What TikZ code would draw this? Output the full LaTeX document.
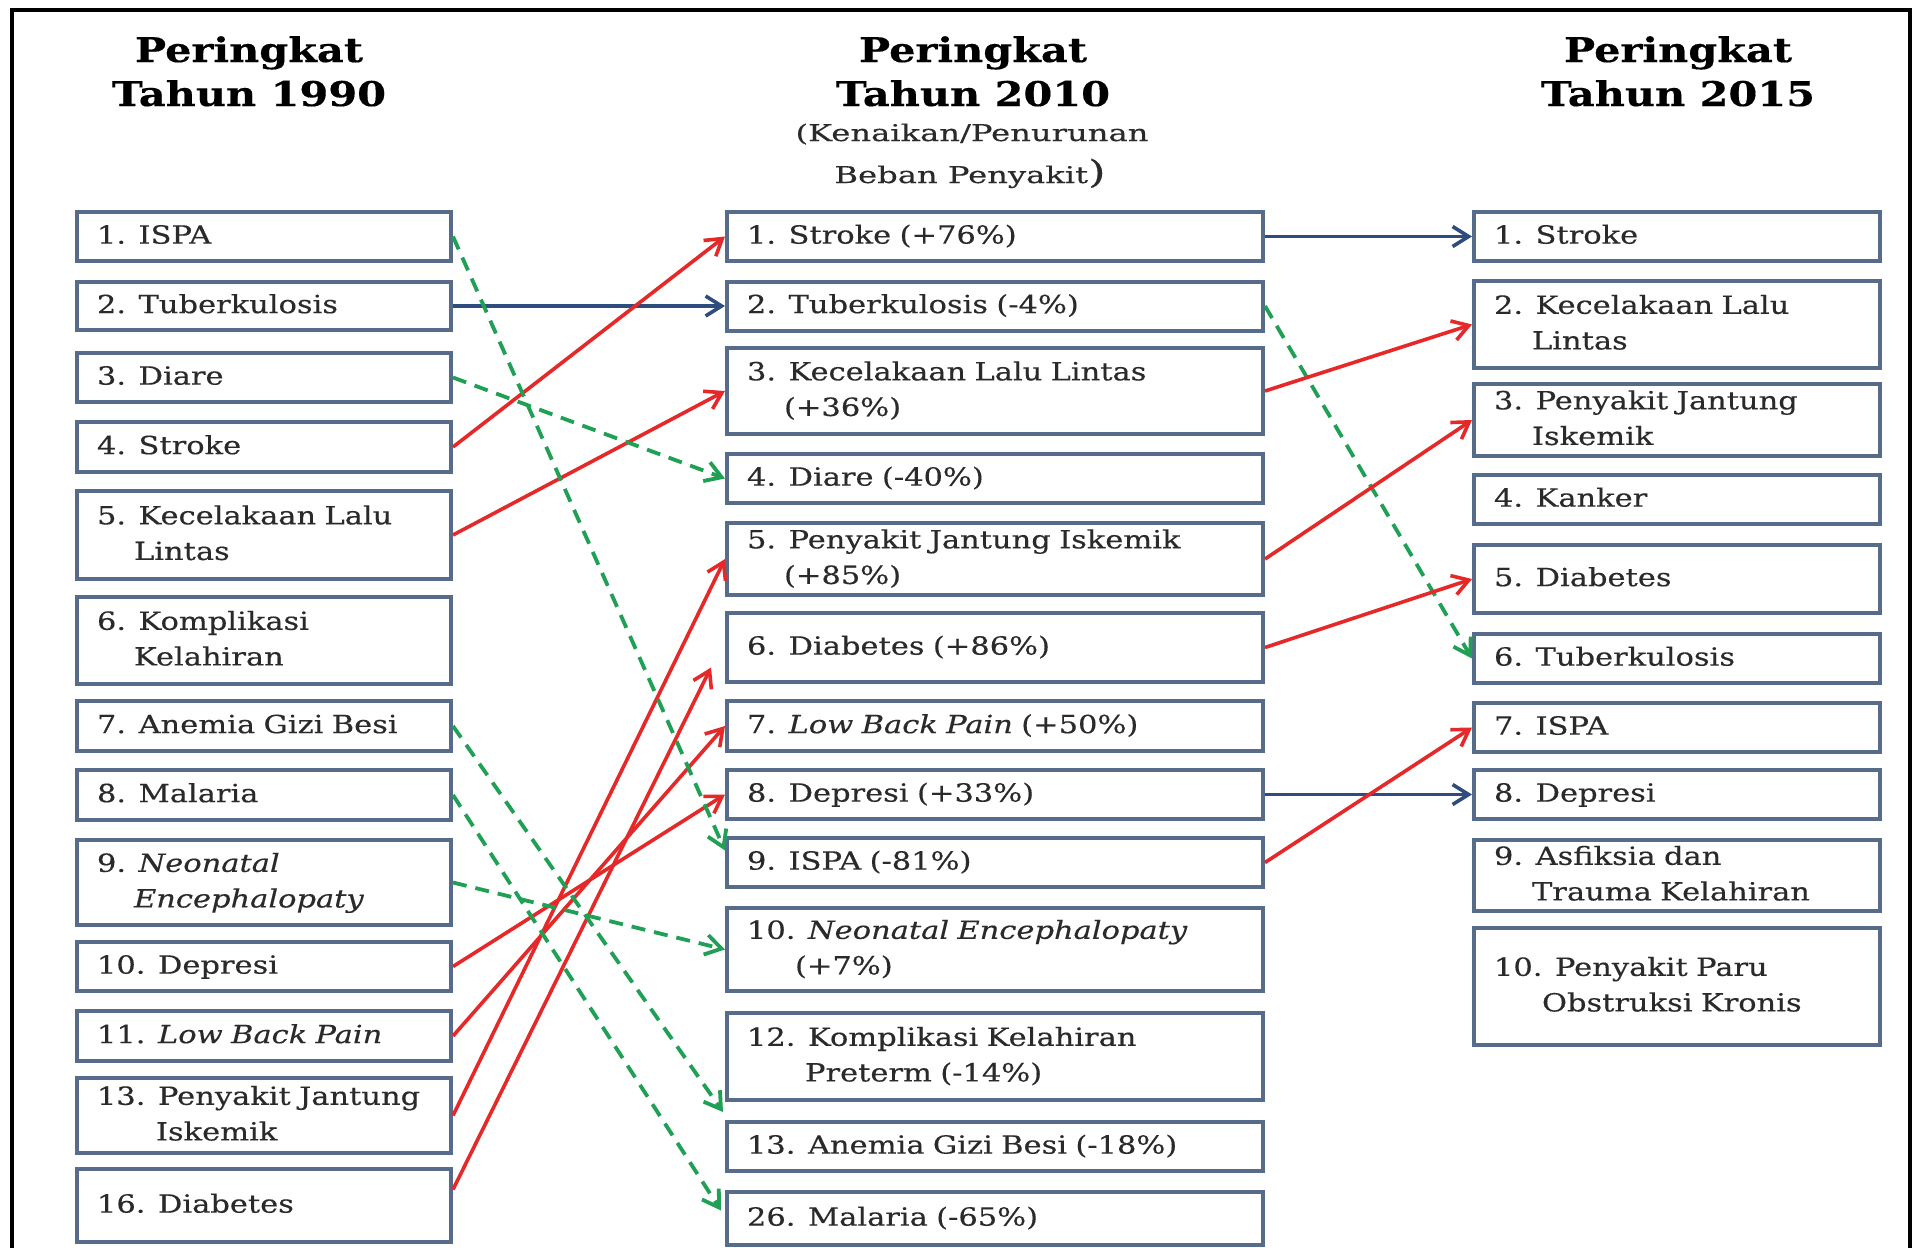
\documentclass[tikz,border=0pt]{standalone}
\usepackage{fontspec}
\setmainfont{DejaVu Serif}[FakeStretch=1.22, FakeBold=0.35]
\newfontfamily\subfont{DejaVu Serif}[FakeStretch=1.4, FakeBold=0.3]
\usetikzlibrary{arrows.meta}
\definecolor{boxc}{HTML}{566C8A}
\definecolor{txtc}{HTML}{2A2A2A}
\definecolor{arblue}{HTML}{2F4C7E}
\definecolor{arred}{HTML}{E62828}
\definecolor{argreen}{HTML}{1FA055}
\newcommand\Tx[1]{\mbox{\strut#1}}
\newcommand\Tn[2]{\\\mbox{\hspace*{#1}\strut#2}}
\begin{document}
\begin{tikzpicture}[x=0.5pt,y=-0.5pt,
  box/.style={draw=boxc, line width=2pt, fill=white, rectangle, inner xsep=10pt, inner ysep=0pt,
    align=left, text=txtc, font=\fontsize{12.5}{17.8}\selectfont},
  colL/.style={box, minimum width=187pt, text width=167pt},
  colM/.style={box, minimum width=268pt, text width=248pt},
  colR/.style={box, minimum width=203pt, text width=183pt},
  bh/.style={minimum height=#1*0.5pt},
  hd/.style={anchor=base, inner sep=0pt, text=black, font=\fontsize{17}{21}\selectfont\bfseries},
  subhd/.style={anchor=base, inner sep=0pt, text=txtc, font=\subfont\fontsize{11.5}{13}\selectfont},
  same/.style={draw=arblue, line width=1.8pt, -{Straight Barb[length=8pt,width=10pt]}},
  inc/.style={draw=arred, line width=1.8pt, -{Straight Barb[length=8pt,width=10pt]}},
  dec/.style={draw=argreen, line width=1.9pt, dash pattern=on 7pt off 4.5pt, -{Straight Barb[length=8pt,width=10pt]}}
]
\useasboundingbox (0,0) rectangle (1923,1248);
\fill[white] (0,0) rectangle (1923,1248);
\draw[line width=2pt, black] (12,1270) -- (12,10) -- (1910,10) -- (1910,1270);

% headers
\node[hd] (h1a) at (249,62) {Peringkat};
\node[hd] (h1b) at (249,106) {Tahun 1990};
\node[hd] (h2a) at (973,62) {Peringkat};
\node[hd] (h2b) at (973,106) {Tahun 2010};
\node[subhd] (h2c) at (972,141) {(Kenaikan/Penurunan};
\node[subhd] (h2d) at (970,183) {Beban Penyakit{\fontsize{16}{16}\selectfont)}};
\node[hd] (h3a) at (1678,62) {Peringkat};
\node[hd] (h3b) at (1678,106) {Tahun 2015};

% left column (1990)
\node[colL, bh=49] (L1) at (264,236.5) {\Tx{1. ISPA}};
\node[colL, bh=48] (L2) at (264,306) {\Tx{2. Tuberkulosis}};
\node[colL, bh=49] (L3) at (264,377.5) {\Tx{3. Diare}};
\node[colL, bh=50] (L4) at (264,447) {\Tx{4. Stroke}};
\node[colL, bh=88] (L5) at (264,535) {\Tx{5. Kecelakaan Lalu}\Tn{18.5pt}{Lintas}};
\node[colL, bh=87] (L6) at (264,640.5) {\Tx{6. Komplikasi}\Tn{18.5pt}{Kelahiran}};
\node[colL, bh=50] (L7) at (264,726) {\Tx{7. Anemia Gizi Besi}};
\node[colL, bh=50] (L8) at (264,795) {\Tx{8. Malaria}};
\node[colL, bh=85] (L9) at (264,882.5) {\Tx{9. \textit{Neonatal}}\Tn{18.5pt}{\textit{Encephalopaty}}};
\node[colL, bh=49] (L10) at (264,966.5) {\Tx{10. Depresi}};
\node[colL, bh=50] (L11) at (264,1036) {\Tx{11. \textit{Low Back Pain}}};
\node[colL, bh=75] (L13) at (264,1115.5) {\Tx{13. Penyakit Jantung}\Tn{29.5pt}{Iskemik}};
\node[colL, bh=73] (L16) at (264,1205.5) {\Tx{16. Diabetes}};

% middle column (2010)
\node[colM, bh=49] (M1) at (995,236.5) {\Tx{1. Stroke (+76\%)}};
\node[colM, bh=49] (M2) at (995,306) {\Tx{2. Tuberkulosis (-4\%)}};
\node[colM, bh=86] (M3) at (995,391) {\Tx{3. Kecelakaan Lalu Lintas}\Tn{18.5pt}{(+36\%)}};
\node[colM, bh=49] (M4) at (995,478.5) {\Tx{4. Diare (-40\%)}};
\node[colM, bh=70] (M5) at (995,559) {\Tx{5. Penyakit Jantung Iskemik}\Tn{18.5pt}{(+85\%)}};
\node[colM, bh=69] (M6) at (995,647.5) {\Tx{6. Diabetes (+86\%)}};
\node[colM, bh=50] (M7) at (995,726) {\Tx{7. \textit{Low Back Pain} (+50\%)}};
\node[colM, bh=49] (M8) at (995,794.5) {\Tx{8. Depresi (+33\%)}};
\node[colM, bh=49] (M9) at (995,862.5) {\Tx{9. ISPA (-81\%)}};
\node[colM, bh=83] (M10) at (995,949.5) {\Tx{10. \textit{Neonatal Encephalopaty}}\Tn{24pt}{(+7\%)}};
\node[colM, bh=87] (M12) at (995,1056.5) {\Tx{12. Komplikasi Kelahiran}\Tn{29pt}{Preterm (-14\%)}};
\node[colM, bh=49] (M13) at (995,1146.5) {\Tx{13. Anemia Gizi Besi (-18\%)}};
\node[colM, bh=53] (M26) at (995,1218.5) {\Tx{26. Malaria (-65\%)}};

% right column (2015)
\node[colR, bh=49] (R1) at (1677,236.5) {\Tx{1. Stroke}};
\node[colR, bh=87] (R2) at (1677,324.5) {\Tx{2. Kecelakaan Lalu}\Tn{19pt}{Lintas}};
\node[colR, bh=70] (R3) at (1677,420) {\Tx{3. Penyakit Jantung}\Tn{19pt}{Iskemik}};
\node[colR, bh=49] (R4) at (1677,499.5) {\Tx{4. Kanker}};
\node[colR, bh=68] (R5) at (1677,579) {\Tx{5. Diabetes}};
\node[colR, bh=49] (R6) at (1677,658.5) {\Tx{6. Tuberkulosis}};
\node[colR, bh=49] (R7) at (1677,727.5) {\Tx{7. ISPA}};
\node[colR, bh=49] (R8) at (1677,794.5) {\Tx{8. Depresi}};
\node[colR, bh=69] (R9) at (1677,875.5) {\Tx{9. Asfiksia dan}\Tn{19pt}{Trauma Kelahiran}};
\node[colR, bh=117] (R10) at (1677,986.5) {\Tx{10. Penyakit Paru}\Tn{24pt}{Obstruksi Kronis}};

% connectors 1990 -> 2010
\draw[same] (L2.east) -- (M2.west);
\draw[inc] (L4.east) -- (M1.west);
\draw[inc] (L5.east) -- (M3.west);
\draw[inc] (L10.east) -- (M8.west);
\draw[inc] (L11.east) -- (M7.west);
\draw[inc] (L13.east) -- (M5.west);
\draw[inc] ([yshift=8pt]L16.east) -- ([xshift=-7pt,yshift=-10pt]M6.west);
\draw[dec] (L1.east) -- ([yshift=6pt]M9.west);
\draw[dec] (L3.east) -- (M4.west);
\draw[dec] (L7.east) -- ([xshift=-1pt,yshift=4pt]M13.north west);
\draw[dec] (L8.east) -- ([xshift=-2pt,yshift=4pt]M26.west);
\draw[dec] (L9.east) -- (M10.west);

% connectors 2010 -> 2015
\draw[same] (M1.east) -- (R1.west);
\draw[dec] (M2.east) -- (R6.west);
\draw[inc] (M3.east) -- (R2.west);
\draw[inc] (M5.east) -- (R3.west);
\draw[inc] (M6.east) -- (R5.west);
\draw[same] (M8.east) -- (R8.west);
\draw[inc] (M9.east) -- (R7.west);
\end{tikzpicture}
\end{document}
